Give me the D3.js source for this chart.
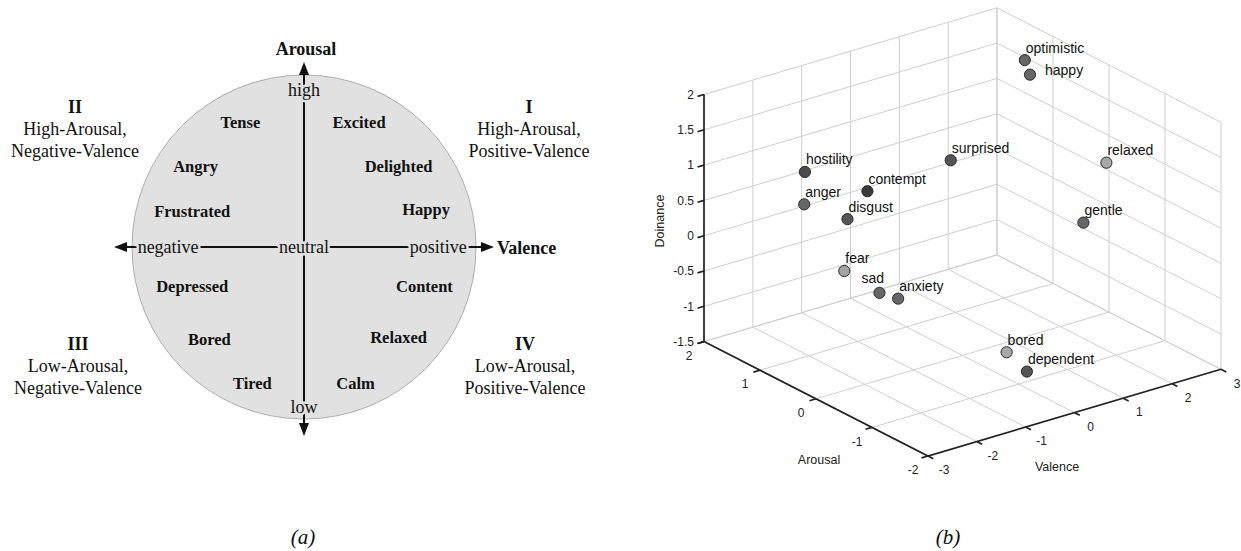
<!DOCTYPE html>
<html lang="en">
  <head>
    <meta charset="UTF-8" />
    <title>Emotion models: circumplex and PAD space</title>
    <script src="https://d3js.org/d3.v7.min.js"></script>
    <style>
      body {
        margin: 0;
        background-color: #fff;
      }
      .serif {
        font-family: "Liberation Serif", "Times New Roman", serif;
        fill: #111;
      }
      .sans {
        font-family: "Liberation Sans", Arial, Helvetica, sans-serif;
        fill: #222;
      }
      .grid {
        stroke: #cfcfcf;
        stroke-width: 1;
        fill: none;
      }
      .axis3d {
        stroke: #222;
        stroke-width: 1.7;
        fill: none;
      }
    </style>
  </head>
  <body>
    <svg id="fig" width="1241" height="551"></svg>

    <script>
      // (a) circumplex: words placed by valence / arousal (circle radius = 1)
      const words = ["Tense", "Excited", "Angry", "Delighted", "Frustrated", "Happy",
        "Depressed", "Content", "Bored", "Relaxed", "Tired", "Calm"];
      const wordValence = [-0.37, 0.32, -0.63, 0.55, -0.65, 0.71, -0.65, 0.7, -0.55, 0.55, -0.3, 0.3];
      const wordArousal = [0.73, 0.73, 0.47, 0.47, 0.21, 0.22, -0.23, -0.23, -0.54, -0.53, -0.8, -0.8];
      const quadrantNames = ["II", "I", "III", "IV"];
      const quadrantArousal = ["High-Arousal,", "High-Arousal,", "Low-Arousal,", "Low-Arousal,"];
      const quadrantValence = ["Negative-Valence", "Positive-Valence", "Negative-Valence", "Positive-Valence"];
      const valenceMarks = ["negative", "neutral", "positive"];
      const arousalMarks = ["high", "low"];

      // (b) PAD space
      const emotions = ["optimistic", "happy", "surprised", "relaxed", "hostility", "contempt",
        "anger", "disgust", "gentle", "fear", "sad", "anxiety", "bored", "dependent"];
      const valence = [2.48, 2.77, 1.72, 2.19, -2.08, -1.58, -1.98, -1.92, 1.57, -0.93, -0.92, -0.95, -0.53, 0.39];
      const arousal = [1.05, 1.21, 1.71, -0.66, 1.0, 0.32, 1.1, 0.38, -0.79, 1.3, 0.68, 0.32, -1.25, -0.81];
      const dominance = [1.75, 1.42, 0.22, 1.05, 1.12, 1.02, 0.6, 0.67, 0.38, -0.64, -0.7, -0.63, -0.84, -1.48];
      const valenceTicks = [-3, -2, -1, 0, 1, 2, 3];
      const arousalTicks = [-2, -1, 0, 1, 2];
      const dominanceTicks = [-1.5, -1, -0.5, 0, 0.5, 1, 1.5, 2];

      const svg = d3.select("#fig");

      // ---------- (a) ----------
      const cx = 304, cy = 247, r = 172;
      const xA = d3.scaleLinear().domain([-1, 1]).range([cx - r, cx + r]);
      const yA = d3.scaleLinear().domain([-1, 1]).range([cy + 171, cy - 171]);
      const circleFill = "#e1e1e1";

      const a = svg.append("g");
      a.append("circle")
        .attr("cx", cx).attr("cy", cy).attr("r", r)
        .attr("fill", circleFill).attr("stroke", "#adadad").attr("stroke-width", 1);

      // axes with arrow heads
      a.append("line").attr("x1", cx).attr("x2", cx).attr("y1", 72).attr("y2", 426)
        .attr("stroke", "#111").attr("stroke-width", 2);
      a.append("line").attr("x1", 124).attr("x2", 484).attr("y1", cy).attr("y2", cy)
        .attr("stroke", "#111").attr("stroke-width", 2);
      const heads = [
        [[cx, 62], [cx - 5, 75], [cx + 5, 75]],
        [[cx, 436], [cx - 5, 423], [cx + 5, 423]],
        [[114, cy], [127, cy - 5], [127, cy + 5]],
        [[494, cy], [481, cy - 5], [481, cy + 5]],
      ];
      a.selectAll(".head").data(heads).enter().append("path")
        .attr("d", (d) => d3.line()(d) + "Z")
        .attr("fill", "#111");

      const haloText = (sel) =>
        sel.attr("class", "serif")
          .style("font-size", "18px")
          .attr("text-anchor", "middle")
          .attr("dy", "0.33em")
          .attr("stroke", circleFill)
          .attr("stroke-width", 5)
          .attr("paint-order", "stroke");

      a.selectAll(".vmark").data(valenceMarks).enter().append("text")
        .attr("x", (d, i) => xA([-0.79, 0, 0.78][i]))
        .attr("y", cy)
        .call(haloText)
        .text((d) => d);

      a.selectAll(".amark").data(arousalMarks).enter().append("text")
        .attr("x", cx)
        .attr("y", (d, i) => yA([0.92, -0.935][i]))
        .call(haloText)
        .text((d) => d);

      a.append("text").attr("class", "serif")
        .attr("x", 306).attr("y", 49).attr("dy", "0.33em")
        .attr("text-anchor", "middle")
        .style("font-size", "18px").style("font-weight", "bold")
        .text("Arousal");
      a.append("text").attr("class", "serif")
        .attr("x", 497).attr("y", cy + 1).attr("dy", "0.33em")
        .style("font-size", "18px").style("font-weight", "bold")
        .text("Valence");

      a.selectAll(".word").data(words).enter().append("text")
        .attr("class", "serif")
        .attr("x", (d, i) => xA(wordValence[i]))
        .attr("y", (d, i) => yA(wordArousal[i]))
        .attr("dy", "0.33em")
        .attr("text-anchor", "middle")
        .style("font-size", "16.5px").style("font-weight", "bold")
        .text((d) => d);

      // quadrant captions
      const qx = [75, 529, 78, 525], qy = [107, 107, 344, 344];
      quadrantNames.forEach((name, i) => {
        const t = a.append("text").attr("class", "serif")
          .attr("text-anchor", "middle").style("font-size", "18px");
        t.append("tspan").attr("x", qx[i]).attr("y", qy[i]).attr("dy", "0.33em")
          .style("font-weight", "bold").text(name);
        t.append("tspan").attr("x", qx[i]).attr("y", qy[i] + 22).attr("dy", "0.33em")
          .text(quadrantArousal[i]);
        t.append("tspan").attr("x", qx[i]).attr("y", qy[i] + 44).attr("dy", "0.33em")
          .text(quadrantValence[i]);
      });

      // ---------- (b) ----------
      const origin = [928, 456]; // valence -3, arousal -2, dominance -1.5
      const vU = [48.83, -14.45], aU = [-56, -28.6], zU = [0, -70.6];
      const sv = d3.scaleLinear().domain([-3, 3]).range([0, 6]);
      const sa = d3.scaleLinear().domain([-2, 2]).range([0, 4]);
      const sz = d3.scaleLinear().domain([-1.5, 2]).range([0, 3.5]);
      const proj = (v, ar, z) => {
        const p = sv(v), q = sa(ar), s = sz(z);
        return [
          origin[0] + p * vU[0] + q * aU[0] + s * zU[0],
          origin[1] + p * vU[1] + q * aU[1] + s * zU[1],
        ];
      };
      const [vMin, vMax] = sv.domain(), [aMin, aMax] = sa.domain(), [zMin, zMax] = sz.domain();
      const line = d3.line();

      const b = svg.append("g");
      const grid = [];
      valenceTicks.forEach((v) => {
        grid.push([proj(v, aMin, zMin), proj(v, aMax, zMin), proj(v, aMax, zMax)]);
      });
      arousalTicks.forEach((ar) => {
        grid.push([proj(vMin, ar, zMin), proj(vMax, ar, zMin), proj(vMax, ar, zMax)]);
      });
      dominanceTicks.forEach((z) => {
        grid.push([proj(vMin, aMax, z), proj(vMax, aMax, z), proj(vMax, aMin, z)]);
      });
      b.selectAll(".grid").data(grid).enter().append("path")
        .attr("class", "grid").attr("d", (d) => line(d));

      // axis lines
      b.append("path").attr("class", "axis3d")
        .attr("d", line([proj(vMin, aMax, zMax), proj(vMin, aMax, zMin), proj(vMin, aMin, zMin), proj(vMax, aMin, zMin)]));

      // ticks: outward along -valence for z / arousal, along -arousal for valence
      const tv = [-6.5, 1.9], ta = [5.3, 2.7];
      const ticks = [];
      dominanceTicks.forEach((z) => { const p = proj(vMin, aMax, z); ticks.push([p, [p[0] + tv[0], p[1] + tv[1]]]); });
      arousalTicks.forEach((ar) => { const p = proj(vMin, ar, zMin); ticks.push([p, [p[0] + tv[0], p[1] + tv[1]]]); });
      valenceTicks.forEach((v) => { const p = proj(v, aMin, zMin); ticks.push([p, [p[0] + ta[0], p[1] + ta[1]]]); });
      b.selectAll(".tick").data(ticks).enter().append("path")
        .attr("class", "axis3d").attr("stroke-width", 1.4).attr("d", (d) => line(d));

      const tickFont = "12px";
      b.selectAll(".zlab").data(dominanceTicks).enter().append("text")
        .attr("class", "sans").style("font-size", tickFont)
        .attr("text-anchor", "end").attr("dy", "0.35em")
        .attr("x", (d) => proj(vMin, aMax, d)[0] - 10)
        .attr("y", (d) => proj(vMin, aMax, d)[1])
        .text((d) => d);
      b.selectAll(".alab").data(arousalTicks).enter().append("text")
        .attr("class", "sans").style("font-size", tickFont)
        .attr("text-anchor", "middle").attr("dy", "0.35em")
        .attr("x", (d) => proj(vMin, d, zMin)[0] - 15)
        .attr("y", (d) => proj(vMin, d, zMin)[1] + 14)
        .text((d) => d);
      b.selectAll(".vlab").data(valenceTicks).enter().append("text")
        .attr("class", "sans").style("font-size", tickFont)
        .attr("text-anchor", "middle").attr("dy", "0.35em")
        .attr("x", (d) => proj(d, aMin, zMin)[0] + 16)
        .attr("y", (d) => proj(d, aMin, zMin)[1] + 14)
        .text((d) => d);

      b.append("text").attr("class", "sans").style("font-size", "12.5px")
        .attr("text-anchor", "middle").attr("dy", "0.35em")
        .attr("x", 819).attr("y", 460).text("Arousal");
      b.append("text").attr("class", "sans").style("font-size", "12.5px")
        .attr("text-anchor", "middle").attr("dy", "0.35em")
        .attr("x", 1057).attr("y", 467).text("Valence");
      b.append("text").attr("class", "sans").style("font-size", "12.5px")
        .attr("text-anchor", "middle").attr("dy", "0.35em")
        .attr("transform", "translate(660,221) rotate(-90)").text("Doinance");

      // points
      const shade = { fear: "#a3a3a3", relaxed: "#a8a8a8", bored: "#a8a8a8", contempt: "#3a3a3a",
        hostility: "#4c4c4c", disgust: "#555", surprised: "#555", dependent: "#555" };
      const labelShift = { happy: [15, 0.5], sad: [-18, -9.5] };
      const pts = emotions.map((name, i) => ({ name, p: proj(valence[i], arousal[i], dominance[i]) }));

      b.selectAll(".pt").data(pts).enter().append("circle")
        .attr("cx", (d) => d.p[0]).attr("cy", (d) => d.p[1]).attr("r", 5.6)
        .attr("fill", (d) => shade[d.name] || "#666")
        .attr("stroke", "#2a2a2a").attr("stroke-width", 1);

      b.selectAll(".ptlab").data(pts).enter().append("text")
        .attr("class", "sans").style("font-size", "14px").style("fill", "#111")
        .attr("x", (d) => d.p[0] + (labelShift[d.name] ? labelShift[d.name][0] : 1))
        .attr("y", (d) => d.p[1] + (labelShift[d.name] ? labelShift[d.name][1] : -7.5))
        .text((d) => d.name);

      // panel captions
      svg.selectAll(".cap").data(["(a)", "(b)"]).enter().append("text")
        .attr("class", "serif")
        .attr("x", (d, i) => [303, 948][i]).attr("y", 537).attr("dy", "0.35em")
        .attr("text-anchor", "middle")
        .style("font-size", "21px").style("font-style", "italic")
        .text((d) => d);
    </script>
  </body>
</html>
